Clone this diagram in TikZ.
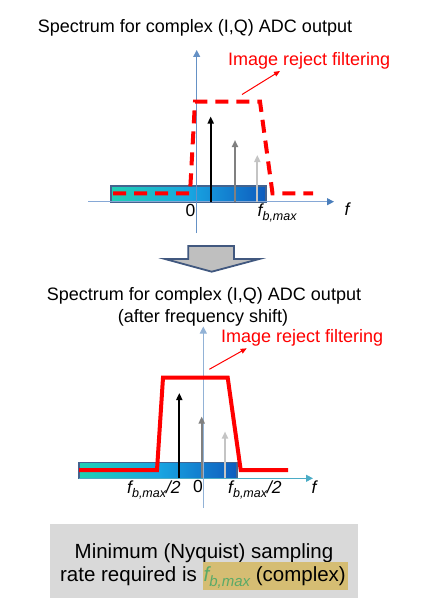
\documentclass[tikz,border=0pt]{standalone}
\usepackage{fontspec}
\setmainfont{Liberation Sans}
\usetikzlibrary{arrows.meta}

\definecolor{axisblue}{HTML}{4A7EBB}
\definecolor{axislight}{HTML}{86A8D6}
\definecolor{axiscyan}{HTML}{4BACC6}
\definecolor{barteal}{HTML}{20D0B4}
\definecolor{barmid}{HTML}{18A6E2}
\definecolor{barblue}{HTML}{0E5CBE}
\definecolor{barborder}{HTML}{44648F}
\definecolor{midgray}{HTML}{808080}
\definecolor{lightgraytone}{HTML}{C4C4C4}
\definecolor{boxgray}{HTML}{D9D9D9}
\definecolor{hlgold}{HTML}{D5BD73}
\definecolor{fgreen}{HTML}{5AAA68}
\definecolor{arrowfill}{HTML}{BFBFBF}
\definecolor{arrowedge}{HTML}{41587F}

\newcommand\subtxt[2]{\raisebox{-#2}{\fontsize{#1}{#1}\selectfont b,max}}

\tikzset{
  titletext/.style={font=\fontsize{18}{22}\selectfont, inner sep=0pt, anchor=base},
  redlabel/.style={font=\fontsize{18}{21}\selectfont, text=red, inner sep=0pt, anchor=base west},
  axlabel/.style={font=\fontsize{17.5}{20}\selectfont, inner sep=0pt, anchor=base west},
  haxis/.style={draw=axislight, line width=1pt, -{Triangle[width=7pt,length=7pt,color=axisblue]}},
  haxiscyan/.style={draw=axiscyan, line width=1pt, -{Triangle[width=7pt,length=7pt]}},
  vaxis/.style={draw=axisblue!85!white, line width=1pt, -{Triangle[width=7pt,length=7pt]}},
  tone/.style={line width=2pt, -{Triangle[width=6pt,length=7pt]}},
  filterline/.style={draw=red, line width=4pt, line join=miter},
  pointer/.style={draw=red, line width=1pt, -{Triangle[width=5pt,length=6pt]}},
  spectrumbar/.style={draw=barborder, line width=1.6pt, left color=barteal, right color=barblue, middle color=barmid},
}

\begin{document}
\begin{tikzpicture}[x=1pt,y=-1pt]
\useasboundingbox (0,0) rectangle (433,610);

% ---------- top panel ----------
\node[titletext] (t1) at (195,32.7) {Spectrum for complex (I,Q) ADC output};

\shade[spectrumbar] (111,185.7) rectangle (266,201.7);

\coordinate (ha1) at (88,201.7);
\coordinate (hb1) at (334,201.7);
\draw[haxis] (ha1) -- (hb1);
\coordinate (va1) at (196.7,233);
\coordinate (vb1) at (196.7,50);
\draw[vaxis] (va1) -- (vb1);

\draw[filterline, dash pattern=on 13pt off 8pt]
  (113,193.3) -- (190,193.3) -- (195,101.7) -- (260,101.7) -- (272.5,193.3) -- (313,193.3);

\coordinate (a1b) at (210.7,201.7); \coordinate (a1t) at (210.7,116.5);
\coordinate (a2b) at (235,201.7);   \coordinate (a2t) at (235,140);
\coordinate (a3b) at (257.3,201.7); \coordinate (a3t) at (257.3,155);
\draw[tone, black] (a1b) -- (a1t);
\draw[tone, midgray] (a2b) -- (a2t);
\draw[tone, lightgraytone] (a3b) -- (a3t);

\node[redlabel] (r1) at (228,66) {Image reject filtering};
\coordinate (p1s) at (242,94.5);
\coordinate (p1e) at (280,71);
\draw[pointer] (p1s) -- (p1e);

\node[axlabel] (z1) at (185.5,216.5) {0};
\node[axlabel] (fm1) at (257.5,216) {\itshape f\subtxt{12.5}{4pt}};
\node[axlabel] (f1) at (344.5,215.5) {\itshape f};

% ---------- block arrow ----------
\filldraw[fill=arrowfill, draw=arrowedge, line width=1.8pt, line join=miter]
  (188.3,246) -- (234,246) -- (234,259) -- (259.3,259) -- (211.7,271.7)
  -- (165,259) -- (188.3,259) -- cycle;

% ---------- bottom panel ----------
\node[titletext] (t2a) at (204,300.7) {Spectrum for complex (I,Q) ADC output};
\node[titletext] (t2b) at (203,322.7) {(after frequency shift)};

\shade[spectrumbar] (79,462.3) rectangle (237,478.3);

\coordinate (ha2) at (79,478.3);
\coordinate (hb2) at (313,478.3);
\draw[haxiscyan] (ha2) -- (hb2);
\coordinate (va2) at (203.3,508);
\coordinate (vb2) at (203.3,326.5);
\draw[vaxis, draw=axisblue!60!white] (va2) -- (vb2);

\draw[filterline]
  (79,470) -- (157,470) -- (163,377.7) -- (227.7,377.7) -- (240.7,470) -- (288,470);

\coordinate (b1b) at (179.3,478.3); \coordinate (b1t) at (179.3,393);
\coordinate (b2b) at (201.7,478.3); \coordinate (b2t) at (201.7,416.5);
\coordinate (b3b) at (225,478.3);   \coordinate (b3t) at (225,431.5);
\draw[tone, black] (b1b) -- (b1t);
\draw[tone, midgray] (b2b) -- (b2t);
\draw[tone, lightgraytone] (b3b) -- (b3t);

\node[redlabel] (r2) at (221,342.7) {Image reject filtering};
\coordinate (p2s) at (209.3,369.3);
\coordinate (p2e) at (246.7,348.3);
\draw[pointer] (p2s) -- (p2e);

\node[axlabel] (fl2) at (127,493.5) {\itshape f\subtxt{12.5}{4pt}/2};
\node[axlabel] (z2) at (193,492.7) {0};
\node[axlabel] (fr2) at (228,493.5) {\itshape f\subtxt{12.5}{4pt}/2};
\node[axlabel] (f2) at (311.5,493.5) {\itshape f};

% ---------- summary box ----------
\node[fill=boxgray, minimum width=308pt, minimum height=73.7pt, inner sep=0pt] (box) at (204.2,560.9) {};
\node[font=\fontsize{20.5}{23}\selectfont, inner sep=0pt, anchor=base] (l1) at (204,558.3) {Minimum (Nyquist) sampling};
\node[font=\fontsize{20.5}{23}\selectfont, inner sep=0pt, anchor=base] (l2) at (204,581)
  {rate required is {\setlength{\fboxsep}{0pt}\colorbox{hlgold}{\rule[-9pt]{0pt}{28.3pt}\kern1pt\textcolor{fgreen}{\itshape f\subtxt{15}{5pt}} (complex)\kern2pt}}};
\end{tikzpicture}
\end{document}
